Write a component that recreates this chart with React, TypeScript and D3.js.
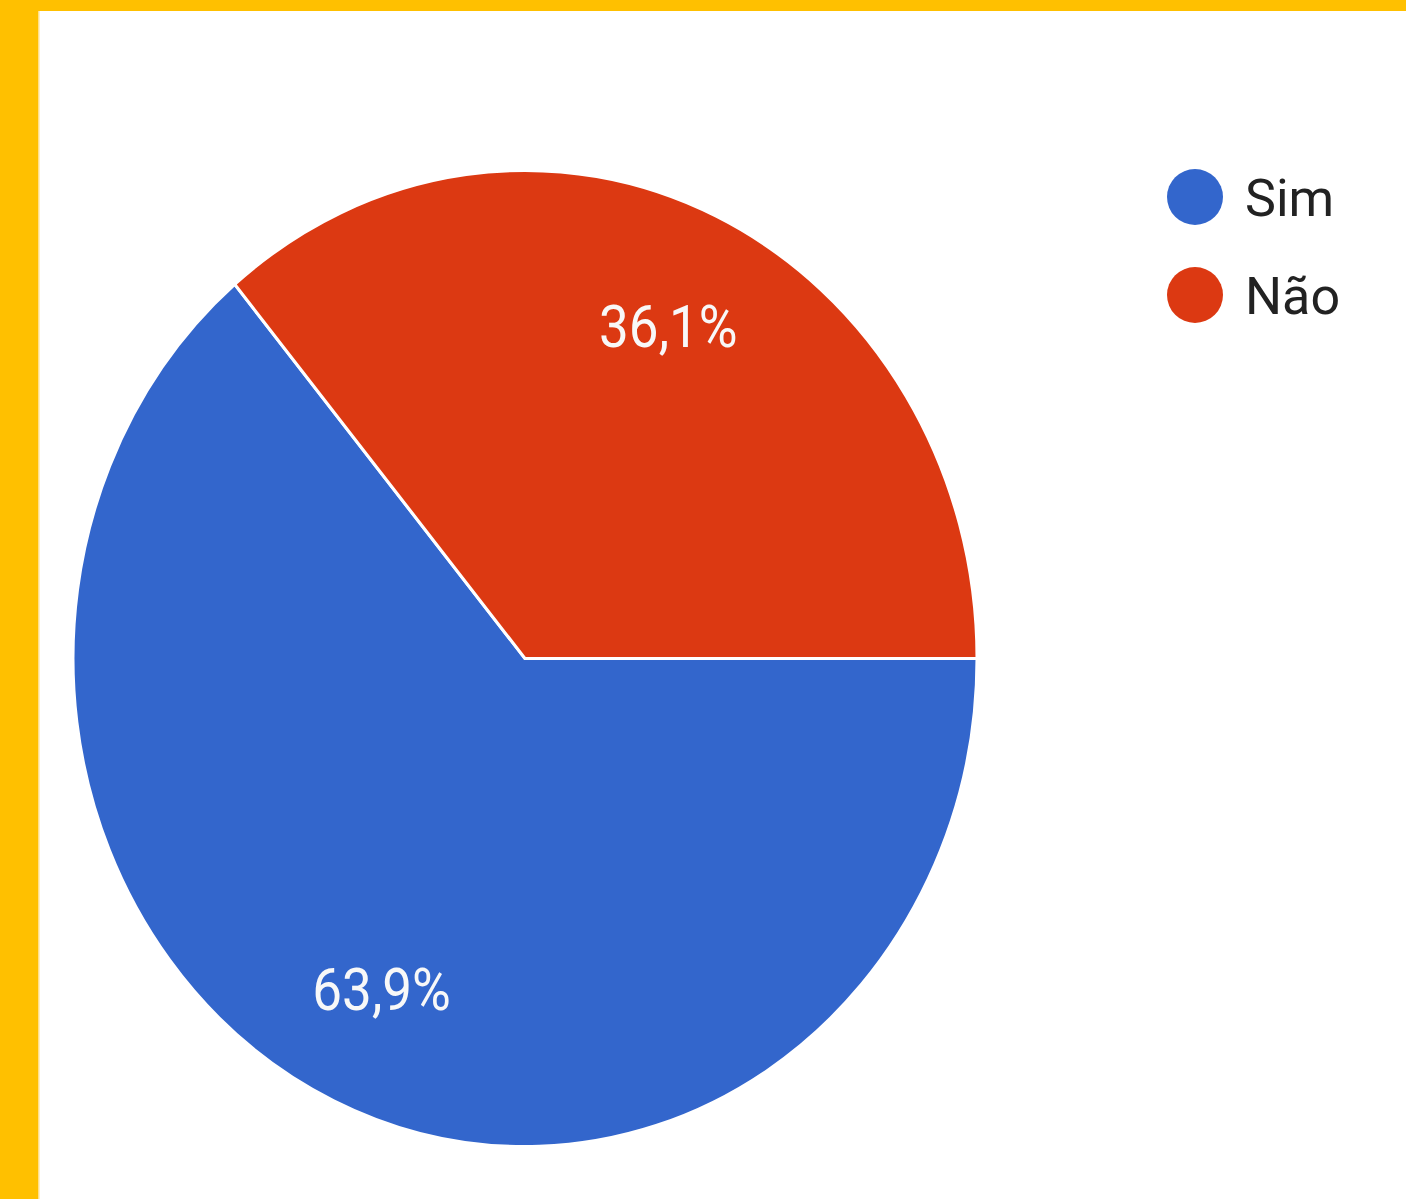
import React from "react";
import * as d3 from "d3";

const categories = ["Sim", "Não"];
const values = [63.9, 36.1];
const labels = ["63,9%", "36,1%"];
const colors = ["#3366CC", "#DC3912"];

const W = 1406;
const H = 1199;

export default function App() {
  const cx = 525;
  const cy = 658.5;
  const r = 452;
  const sy = 1.08;

  const pie = d3
    .pie<number>()
    .sort(null)
    .value((d) => d)
    .startAngle(Math.PI / 2)
    .endAngle(Math.PI / 2 + 2 * Math.PI);
  const arcs = pie(values);
  const arc = d3.arc<d3.PieArcDatum<number>>().innerRadius(0).outerRadius(r);
  const labelArc = d3
    .arc<d3.PieArcDatum<number>>()
    .innerRadius(r * 0.75)
    .outerRadius(r * 0.75);

  return (
    <svg
      width={W}
      height={H}
      style={{ position: "absolute", left: 0, top: 0, display: "block" }}
    >
      <rect x={0} y={0} width={W} height={H} fill="#FFFFFF" />
      <rect x={0} y={0} width={W} height={11} fill="#FFC000" />
      <rect x={0} y={0} width={38} height={H} fill="#FFC000" />
      <rect x={38} y={11} width={1.5} height={H} fill="#FFE08A" />

      <g transform={`translate(${cx},${cy}) scale(1,${sy})`}>
        {arcs.map((a, i) => (
          <path
            key={categories[i]}
            d={arc(a) || ""}
            fill={colors[i]}
            stroke="#FFFFFF"
            strokeWidth={3}
            strokeLinejoin="round"
          />
        ))}
      </g>
      {arcs.map((a, i) => {
        const [lx, ly] = labelArc.centroid(a);
        return (
          <text
            key={"l" + i}
            transform={`translate(${cx + lx},${cy + ly * sy}) scale(1,1.1)`}
            textAnchor="middle"
            dominantBaseline="central"
            fontFamily="Roboto, 'Noto Sans', sans-serif"
            fontSize={53}
            fill="#F8F8F8"
          >
            {labels[i]}
          </text>
        );
      })}

      {categories.map((c, i) => (
        <g key={"lg" + i} transform={`translate(1195,${197 + i * 98})`}>
          <circle cx={0} cy={0} r={28} fill={colors[i]} />
          <text
            x={50}
            y={19}
            fontFamily="Roboto, 'Noto Sans', sans-serif"
            fontSize={52}
            fill="#222222"
          >
            {c}
          </text>
        </g>
      ))}
    </svg>
  );
}
